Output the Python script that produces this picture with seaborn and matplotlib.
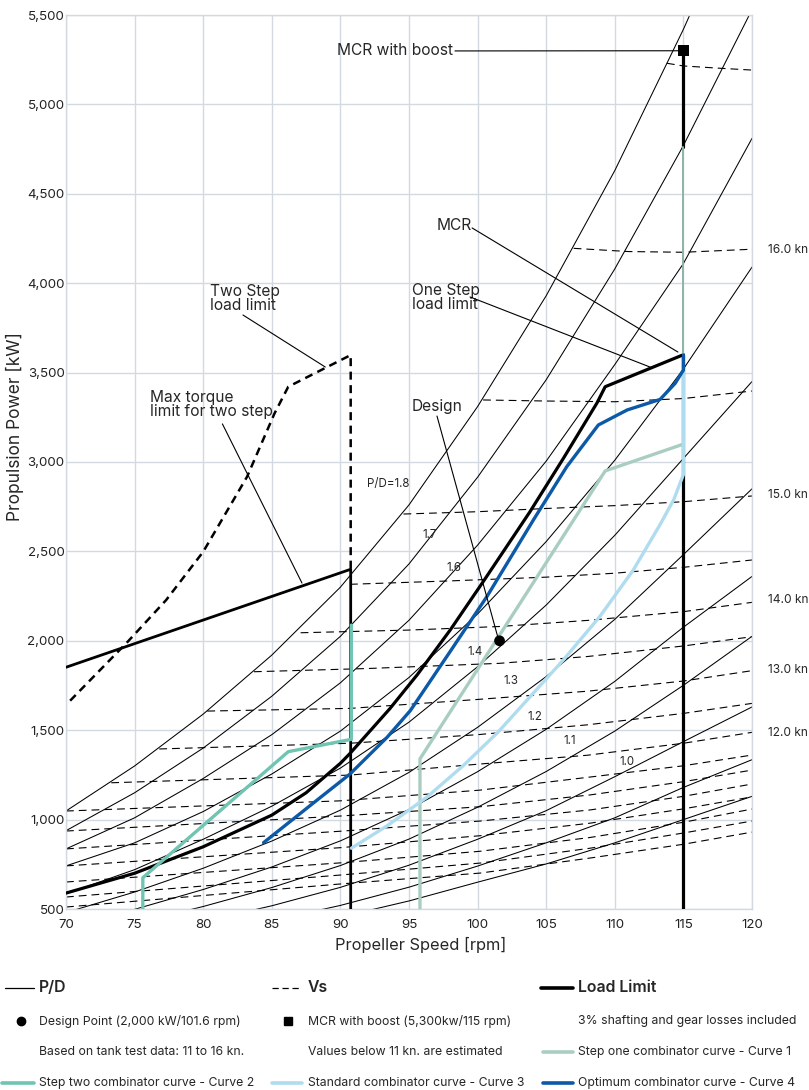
import matplotlib
matplotlib.use("Agg")
import matplotlib.pyplot as plt
from matplotlib.lines import Line2D
from matplotlib.ticker import FuncFormatter
import seaborn as sns

# P/D lines, read at every 5 rpm (kW)
rpm_grid = [70, 75, 80, 85, 90, 95, 100, 105, 110, 115, 120]
pd_18 = [1048, 1300, 1590, 1920, 2300, 2760, 3310, 3930, 4630, 5420, 6280]
pd_17 = [938, 1150, 1400, 1690, 2025, 2430, 2915, 3460, 4080, 4770, 5530]
pd_16 = [836, 1010, 1230, 1475, 1765, 2115, 2535, 3005, 3545, 4110, 4810]
pd_15 = [741, 870, 1045, 1255, 1495, 1795, 2150, 2555, 3010, 3520, 4090]
pd_14 = [585, 720, 890, 1075, 1288, 1545, 1855, 2200, 2590, 3020, 3450]
pd_13 = [480, 595, 728, 880, 1053, 1264, 1516, 1800, 2120, 2482, 2850]
pd_12 = [401, 498, 609, 735, 881, 1057, 1268, 1505, 1773, 2076, 2360]
pd_11 = [338, 420, 514, 620, 743, 891, 1069, 1269, 1495, 1751, 2025]
pd_10 = [283, 351, 430, 518, 621, 745, 890, 1050, 1240, 1436, 1630]
pd_09 = [236, 293, 360, 435, 520, 622, 740, 870, 1010, 1180, 1335]
pd_08 = [200, 250, 310, 380, 455, 545, 650, 752, 870, 1000, 1130]

# ship speed lines (Vs), rpm / kW
vs_165_rpm = [113.8, 115, 117.7, 120]
vs_165_kw = [5230, 5215, 5202, 5192]
vs_160_rpm = [107, 111, 115, 120]
vs_160_kw = [4195, 4177, 4173, 4190]
vs_155_rpm = [100.4, 105, 110, 115, 120]
vs_155_kw = [3347, 3341, 3337, 3355, 3397]
vs_150_rpm = [94.6, 100, 105, 110, 115, 120]
vs_150_kw = [2709, 2722, 2740, 2756, 2778, 2810]
vs_145_rpm = [90.7, 98, 105, 110, 115, 120]
vs_145_kw = [2316, 2335, 2356, 2378, 2411, 2452]
vs_140_rpm = [87.1, 95, 101.6, 108, 115, 120]
vs_140_kw = [2045, 2060, 2080, 2114, 2163, 2215]
vs_135_rpm = [83.7, 92, 101.6, 108, 115, 120]
vs_135_kw = [1827, 1845, 1874, 1912, 1971, 2023]
vs_130_rpm = [80.3, 90.7, 100, 108, 115, 120]
vs_130_kw = [1607, 1622, 1672, 1718, 1775, 1833]
vs_125_rpm = [76.8, 90.7, 100, 108, 115, 120]
vs_125_kw = [1395, 1427, 1475, 1530, 1594, 1650]
vs_120_rpm = [73.3, 90.7, 100.2, 108, 115, 120]
vs_120_kw = [1206, 1249, 1311, 1360, 1427, 1488]
vs_low_rpm = [70, 90, 100.2, 108.2, 115, 120]
vs_115_kw = [1048, 1105, 1165, 1238, 1301, 1361]
vs_110_kw = [936, 1020, 1072, 1138, 1212, 1277]
vs_105_kw = [836, 935, 992, 1054, 1130, 1199]
vs_100_kw = [741, 843, 910, 980, 1060, 1127]
vs_095_kw = [651, 758, 823, 900, 985, 1059]
vs_090_kw = [567, 690, 757, 840, 925, 992]
vs_085_kw = [511, 640, 701, 785, 862, 930]

# load limits
load_rpm = [70, 75, 80, 85, 87.5, 90, 90.7, 93.6, 95.6, 98, 100.4, 103.8, 106.25, 108.7, 109.3, 115]
load_kw = [589, 700, 848, 1025, 1150, 1315, 1370, 1620, 1810, 2060, 2330, 2720, 3020, 3330, 3421, 3600]
two_step_rpm = [70, 90.75, 90.75]
two_step_kw = [1852, 2400, 500]
torque_rpm = [70.3, 74.5, 77.3, 80, 83.2, 85.2, 86.2, 90.75, 90.75]
torque_kw = [1665, 1995, 2228, 2498, 2918, 3272, 3421, 3598, 2400]
mcr_line_rpm = [115, 115]
mcr_line_kw = [500, 3600]
boost_line_kw = [4763, 5300]
thin_line_kw = [3600, 4763]

# combinator curves
c1_rpm = [95.8, 95.8, 109.3, 115]
c1_kw = [500, 1340, 2950, 3100]
c2_rpm = [75.6, 75.6, 86.2, 90.8, 90.8]
c2_kw = [500, 675, 1380, 1449, 2088]
c3_rpm = [90.8, 93.4, 96.3, 99.0, 101.5, 103.8, 106.25, 108.9, 111.35, 113.3, 114.3, 115, 115]
c3_kw = [840, 965, 1125, 1305, 1490, 1685, 1893, 2135, 2396, 2650, 2790, 2930, 3505]
c4_rpm = [84.4, 88.0, 90.7, 93.4, 95.1, 98.0, 100.7, 104.1, 106.5, 108.8, 110.9, 113.3, 114.4, 115, 115]
c4_kw = [871, 1091, 1255, 1460, 1610, 1940, 2250, 2680, 2974, 3207, 3291, 3350, 3440, 3514, 3598]

design_pt = (101.6, 2000)
mcr_boost_pt = (115, 5300)

pd_labels = ["P/D=1.8", "1.7", "1.6", "1.4", "1.3", "1.2", "1.1", "1.0"]
pd_label_rpm = [93.5, 96.5, 98.3, 99.8, 102.4, 104.2, 106.7, 110.9]
pd_label_kw = [2877, 2592, 2407, 1937, 1775, 1574, 1439, 1322]

speed_labels = ["16.0 kn", "15.0 kn", "14.0 kn", "13.0 kn", "12.0 kn"]
speed_label_py = [250, 495, 600, 670, 733]

TEAL = "#6fc4b2"
SAGE = "#a9cec1"
LIGHT_BLUE = "#afdcee"
BLUE = "#0b59a7"
GRID = "#d3d9e0"

sns.set_theme(style="whitegrid")
plt.rcParams['font.family'] = ['Inter', 'DejaVu Sans']

W, H = 809, 1090
fig = plt.figure(figsize=(W / 100, H / 100), dpi=100)
ax = fig.add_axes([66 / W, 1 - 909 / H, (752 - 66) / W, (909 - 15) / H])


def draw(x, y, **kw):
    sns.lineplot(x=x, y=y, ax=ax, sort=False, estimator=None, **kw)


# P/D family (thin solid)
for curve in [pd_18, pd_17, pd_16, pd_15, pd_14, pd_13, pd_12, pd_11, pd_10, pd_09, pd_08]:
    draw(rpm_grid, curve, color="black", linewidth=0.75, zorder=2)

# Vs family (thin dashed)
vs_sets = [(vs_165_rpm, vs_165_kw), (vs_160_rpm, vs_160_kw), (vs_155_rpm, vs_155_kw),
           (vs_150_rpm, vs_150_kw), (vs_145_rpm, vs_145_kw), (vs_140_rpm, vs_140_kw),
           (vs_135_rpm, vs_135_kw), (vs_130_rpm, vs_130_kw), (vs_125_rpm, vs_125_kw),
           (vs_120_rpm, vs_120_kw), (vs_low_rpm, vs_115_kw), (vs_low_rpm, vs_110_kw),
           (vs_low_rpm, vs_105_kw), (vs_low_rpm, vs_100_kw), (vs_low_rpm, vs_095_kw),
           (vs_low_rpm, vs_090_kw), (vs_low_rpm, vs_085_kw)]
for r, k in vs_sets:
    draw(r, k, color="black", linewidth=0.8, linestyle=(0, (7, 4.5)), zorder=2)

# load limits
draw(load_rpm, load_kw, color="black", linewidth=2.3, zorder=3)
draw(two_step_rpm, two_step_kw, color="black", linewidth=2.0, zorder=3)
draw(torque_rpm, torque_kw, color="black", linewidth=1.8, linestyle=(0, (3.2, 2.2)), zorder=3)
draw(mcr_line_rpm, mcr_line_kw, color="black", linewidth=2.3, zorder=3)
draw(mcr_line_rpm, boost_line_kw, color="black", linewidth=2.3, zorder=3)
draw(mcr_line_rpm, thin_line_kw, color="#8fb3a6", linewidth=1.4, zorder=3)

# combinator curves
draw(c1_rpm, c1_kw, color=SAGE, linewidth=2.4, zorder=4)
draw(c2_rpm, c2_kw, color=TEAL, linewidth=2.4, zorder=4)
draw(c3_rpm, c3_kw, color=LIGHT_BLUE, linewidth=2.4, zorder=4)
draw(c4_rpm, c4_kw, color=BLUE, linewidth=2.4, zorder=5)

sns.scatterplot(x=[design_pt[0]], y=[design_pt[1]], ax=ax, color="black", s=60,
                marker="o", edgecolor="none", zorder=6)
sns.scatterplot(x=[mcr_boost_pt[0]], y=[mcr_boost_pt[1]], ax=ax, color="black", s=64,
                marker="s", edgecolor="none", zorder=6)

# P/D labels
for t, r, k in zip(pd_labels, pd_label_rpm, pd_label_kw):
    ax.text(r, k, t, fontsize=8.3, ha="center", va="center", zorder=5)

# annotations with leader lines
FS = 11.2
lead = dict(color="black", linewidth=0.8, zorder=5)
ax.text(98.2, 5299, "MCR with boost", fontsize=FS, ha="right", va="center")
ax.plot([98.35, 114.6], [5299, 5300], **lead)
ax.text(98.3, 4320, "MCR", fontsize=FS, ha="center", va="center")
ax.plot([99.6, 114.6], [4309, 3615], **lead)
ax.text(95.2, 3920, "One Step\nload limit", fontsize=FS, ha="left", va="center", linespacing=0.92)
ax.plot([99.45, 112.57], [3923, 3531], **lead)
ax.text(95.2, 3313, "Design", fontsize=FS, ha="left", va="center")
ax.plot([97.04, 101.49], [3257, 2016], **lead)
ax.text(80.5, 3917, "Two Step\nload limit", fontsize=FS, ha="left", va="center", linespacing=0.92)
ax.plot([82.9, 88.9], [3822, 3531], **lead)
ax.text(76.1, 3324, "Max torque\nlimit for two step", fontsize=FS, ha="left", va="center", linespacing=0.92)
ax.plot([81.4, 87.2], [3213, 2323], **lead)

# axes styling
ax.set_xlim(70, 120)
ax.set_ylim(500, 5500)
ax.set_xticks(range(70, 121, 5))
ax.set_yticks(range(500, 5501, 500))
ax.yaxis.set_major_formatter(FuncFormatter(lambda v, p: f"{int(v):,}"))
ax.tick_params(axis="both", length=0, labelsize=9.6, colors="#222222")
ax.tick_params(axis="y", pad=1)
ax.tick_params(axis="x", pad=7)
ax.grid(True, color=GRID, linewidth=1.0)
ax.set_axisbelow(True)
for s in ax.spines.values():
    s.set_color(GRID)
    s.set_linewidth(1.0)
ax.set_xlabel("Propeller Speed [rpm]", fontsize=11.8)
ax.set_ylabel("Propulsion Power [kW]", fontsize=12.5)
ax.xaxis.set_label_coords(0.517, -0.031)
ax.yaxis.set_label_coords(-0.0612, 0.54)

# speed labels at the right edge
for t, py in zip(speed_labels, speed_label_py):
    fig.text(768 / W, 1 - py / H, t, fontsize=8.6, va="center", ha="left")


# legend block under the chart
def fy(py):
    return 1 - py / H


def fline(x0, x1, py, **kw):
    fig.add_artist(Line2D([x0 / W, x1 / W], [fy(py), fy(py)], transform=fig.transFigure, **kw))


LFS = 8.8
fline(5, 34, 988, color="black", linewidth=0.9)
fig.text(39 / W, fy(988), "P/D", fontsize=11.4, fontweight="semibold", va="center")
fline(272, 302, 988, color="black", linewidth=0.9, linestyle=(0, (5, 3)))
fig.text(308 / W, fy(988), "Vs", fontsize=11.4, fontweight="semibold", va="center")
fline(541, 573, 988, color="black", linewidth=2.6)
fig.text(578 / W, fy(988), "Load Limit", fontsize=11.4, fontweight="semibold", va="center")

fig.add_artist(Line2D([21 / W], [fy(1021)], transform=fig.transFigure, marker="o",
                      markersize=6, color="black", linestyle="none"))
fig.text(39 / W, fy(1021), "Design Point (2,000 kW/101.6 rpm)", fontsize=LFS, va="center")
fig.add_artist(Line2D([288 / W], [fy(1021)], transform=fig.transFigure, marker="s",
                      markersize=6, color="black", linestyle="none"))
fig.text(308 / W, fy(1021), "MCR with boost (5,300kw/115 rpm)", fontsize=LFS, va="center")
fig.text(578 / W, fy(1021), "3% shafting and gear losses included", fontsize=LFS, va="center")

fig.text(39 / W, fy(1052), "Based on tank test data: 11 to 16 kn.", fontsize=LFS, va="center")
fig.text(308 / W, fy(1052), "Values below 11 kn. are estimated", fontsize=LFS, va="center")
fline(543, 573, 1052, color=SAGE, linewidth=2.6)
fig.text(578 / W, fy(1052), "Step one combinator curve - Curve 1", fontsize=LFS, va="center")

fline(2, 34, 1083, color=TEAL, linewidth=2.6)
fig.text(39 / W, fy(1083), "Step two combinator curve - Curve 2", fontsize=LFS, va="center")
fline(272, 302, 1083, color=LIGHT_BLUE, linewidth=2.6)
fig.text(308 / W, fy(1083), "Standard combinator curve - Curve 3", fontsize=LFS, va="center")
fline(543, 573, 1083, color=BLUE, linewidth=2.6)
fig.text(578 / W, fy(1083), "Optimum combinator curve - Curve 4", fontsize=LFS, va="center")

fig.savefig("out.png", dpi=100)
